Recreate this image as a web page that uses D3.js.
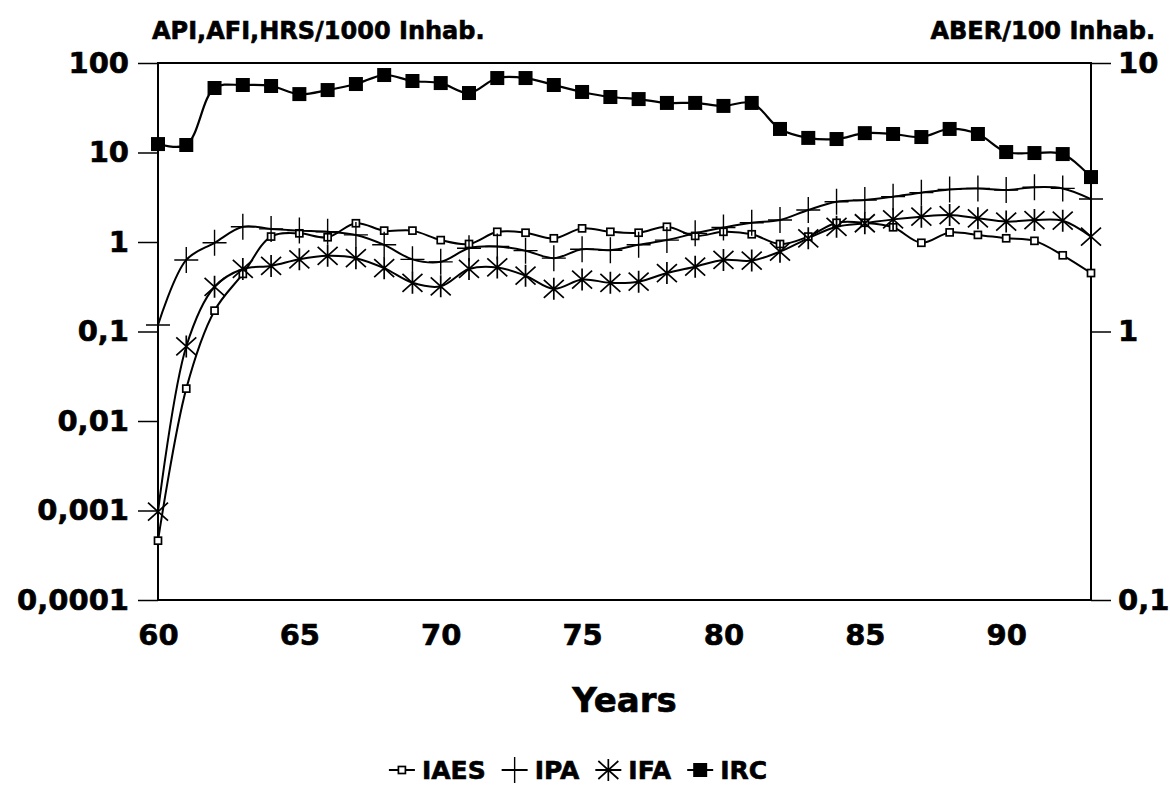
<!DOCTYPE html>
<html>
<head>
<meta charset="utf-8">
<script src="https://cdn.jsdelivr.net/npm/d3@7"></script>
<style>
body { margin: 0; background: #fff; }
text { font-family: "DejaVu Sans", sans-serif; font-weight: bold; fill: #000; stroke: #000; stroke-width: 0.6px; }
</style>
</head>
<body>
<svg width="1170" height="787"></svg>
<script>
var width = 1170,
    height = 787,
    margin = {top: 63, right: 79, bottom: 187, left: 158};

// years 1960..1993
var years = [60, 61, 62, 63, 64, 65, 66, 67, 68, 69, 70, 71, 72, 73, 74, 75, 76,
             77, 78, 79, 80, 81, 82, 83, 84, 85, 86, 87, 88, 89, 90, 91, 92, 93];

// left axis series (/1000 inhab.)
var iaes = [0.00046, 0.023, 0.171, 0.44, 1.15, 1.25, 1.13, 1.62, 1.34, 1.34, 1.05, 0.95,
            1.30, 1.27, 1.10, 1.42, 1.30, 1.27, 1.48, 1.17, 1.30, 1.22, 0.95, 1.15,
            1.64, 1.64, 1.46, 0.98, 1.28, 1.20, 1.10, 1.03, 0.71, 0.45];
var ipa = [0.118, 0.63, 0.98, 1.48, 1.40, 1.34, 1.30, 1.20, 0.93, 0.64, 0.60, 0.85,
           0.89, 0.80, 0.66, 0.83, 0.81, 0.93, 1.05, 1.25, 1.45, 1.64, 1.76, 2.28,
           2.82, 2.94, 3.21, 3.56, 3.87, 3.97, 3.81, 4.09, 3.97, 3.02];
var ifa = [0.00097, 0.068, 0.316, 0.50, 0.54, 0.64, 0.70, 0.66, 0.51, 0.35, 0.32, 0.50,
           0.52, 0.42, 0.30, 0.38, 0.35, 0.36, 0.45, 0.53, 0.63, 0.62, 0.78, 1.10,
           1.48, 1.62, 1.79, 1.92, 2.00, 1.84, 1.69, 1.76, 1.73, 1.15];
// right axis series (ABER /100 inhab.)
var irc = [4.99, 4.95, 8.07, 8.28, 8.21, 7.66, 7.93, 8.35, 9.02, 8.57, 8.42, 7.73,
           8.79, 8.79, 8.28, 7.80, 7.47, 7.34, 7.10, 7.10, 6.92, 7.10, 5.68, 5.26,
           5.21, 5.48, 5.44, 5.30, 5.68, 5.44, 4.66, 4.62, 4.58, 3.76];

var xTicks = [60, 65, 70, 75, 80, 85, 90];
var leftTicks = [0.0001, 0.001, 0.01, 0.1, 1, 10, 100];
var leftTickLabels = ["0,0001", "0,001", "0,01", "0,1", "1", "10", "100"];
var rightTicks = [0.1, 1, 10];
var rightTickLabels = ["0,1", "1", "10"];
var seriesNames = ["IAES", "IPA", "IFA", "IRC"];

var svg = d3.select("svg");

var x = d3.scaleLinear()
    .domain([60, 93])
    .range([margin.left, width - margin.right]);

var yL = d3.scaleLog()
    .domain([0.0001, 100])
    .range([height - margin.bottom, margin.top]);

var yR = d3.scaleLog()
    .domain([0.1, 10])
    .range([height - margin.bottom, margin.top]);

// frame
svg.append("rect")
    .attr("x", margin.left)
    .attr("y", margin.top)
    .attr("width", width - margin.left - margin.right)
    .attr("height", height - margin.top - margin.bottom)
    .style("fill", "none")
    .style("stroke", "#000")
    .style("stroke-width", "2px");

// axes
var gl = svg.append("g")
    .attr("transform", "translate(" + margin.left + ",0)")
    .call(d3.axisLeft(yL)
        .tickValues(leftTicks)
        .tickFormat(function(d, i) { return leftTickLabels[i]; })
        .tickSize(20)
        .tickPadding(9));

var gr = svg.append("g")
    .attr("transform", "translate(" + (width - margin.right) + ",0)")
    .call(d3.axisRight(yR)
        .tickValues(rightTicks)
        .tickFormat(function(d, i) { return rightTickLabels[i]; })
        .tickSize(20)
        .tickPadding(7));

var gx = svg.append("g")
    .attr("transform", "translate(0," + (height - margin.bottom) + ")")
    .call(d3.axisBottom(x)
        .tickValues(xTicks)
        .tickFormat(function(d) { return d; })
        .tickSize(0)
        .tickPadding(24));

[gl, gr, gx].forEach(function(g) {
  g.select(".domain").remove();
  g.selectAll("line").style("stroke", "#000").style("stroke-width", "1.5px");
  g.selectAll("text")
      .style("font-family", "'DejaVu Sans', sans-serif")
      .style("font-weight", "bold")
      .style("font-size", "29px");
});

// lines
var lineL = d3.line()
    .x(function(d, i) { return x(years[i]); })
    .y(function(d) { return yL(d); })
    .curve(d3.curveCatmullRom.alpha(0.5));

var lineR = d3.line()
    .x(function(d, i) { return x(years[i]); })
    .y(function(d) { return yR(d); })
    .curve(d3.curveCatmullRom.alpha(0.5));

function drawLine(data, gen, w) {
  svg.append("path")
      .datum(data)
      .attr("d", gen)
      .style("fill", "none")
      .style("stroke", "#000")
      .style("stroke-width", w);
}

drawLine(iaes, lineL, "2px");
drawLine(ipa, lineL, "2px");
drawLine(ifa, lineL, "2px");
drawLine(irc, lineR, "2.2px");

// markers
var markers = {
  IAES: function(g) {
    g.append("rect").attr("x", -3.5).attr("y", -3.5).attr("width", 7).attr("height", 7)
        .style("fill", "#fff").style("stroke", "#000").style("stroke-width", "1.7px");
  },
  IPA: function(g) {
    g.append("path").attr("d", "M-12,0H12M0,-13V13")
        .style("fill", "none").style("stroke", "#000").style("stroke-width", "1.4px");
  },
  IFA: function(g) {
    g.append("path").attr("d", "M0,-11V11M-10,-9L10,9M-10,9L10,-9")
        .style("fill", "none").style("stroke", "#000").style("stroke-width", "1.7px");
  },
  IRC: function(g) {
    g.append("rect").attr("x", -7).attr("y", -7).attr("width", 14).attr("height", 14)
        .style("fill", "#000");
  }
};

function drawMarkers(data, y, name) {
  svg.append("g").selectAll("g")
      .data(data)
      .enter().append("g")
      .attr("transform", function(d, i) { return "translate(" + x(years[i]) + "," + y(d) + ")"; })
      .each(function() { markers[name](d3.select(this)); });
}

drawMarkers(iaes, yL, "IAES");
drawMarkers(ipa, yL, "IPA");
drawMarkers(ifa, yL, "IFA");
drawMarkers(irc, yR, "IRC");

// axis titles
svg.append("text")
    .attr("x", 152)
    .attr("y", 39)
    .style("font-size", "24px")
    .text("API,AFI,HRS/1000 Inhab.");

svg.append("text")
    .attr("x", 1155)
    .attr("y", 39)
    .attr("text-anchor", "end")
    .style("font-size", "24px")
    .text("ABER/100 Inhab.");

svg.append("text")
    .attr("x", (margin.left + width - margin.right) / 2)
    .attr("y", 712)
    .attr("text-anchor", "middle")
    .style("font-size", "34px")
    .text("Years");

// legend
var legend = svg.append("g");
var lx = 0;
seriesNames.forEach(function(name) {
  var item = legend.append("g").attr("transform", "translate(" + lx + ",0)");
  item.append("line").attr("x1", 0).attr("x2", 26).attr("y1", 0).attr("y2", 0)
      .style("stroke", "#000").style("stroke-width", "2px");
  var m = item.append("g").attr("transform", "translate(13,0)");
  markers[name](m);
  var t = item.append("text")
      .attr("x", 33)
      .attr("dy", "0.36em")
      .style("font-size", "25px")
      .text(name);
  lx += 33 + t.node().getComputedTextLength() + 16;
});
legend.attr("transform", "translate(" + (578 - (lx - 16) / 2) + ",770)");
</script>
</body>
</html>
